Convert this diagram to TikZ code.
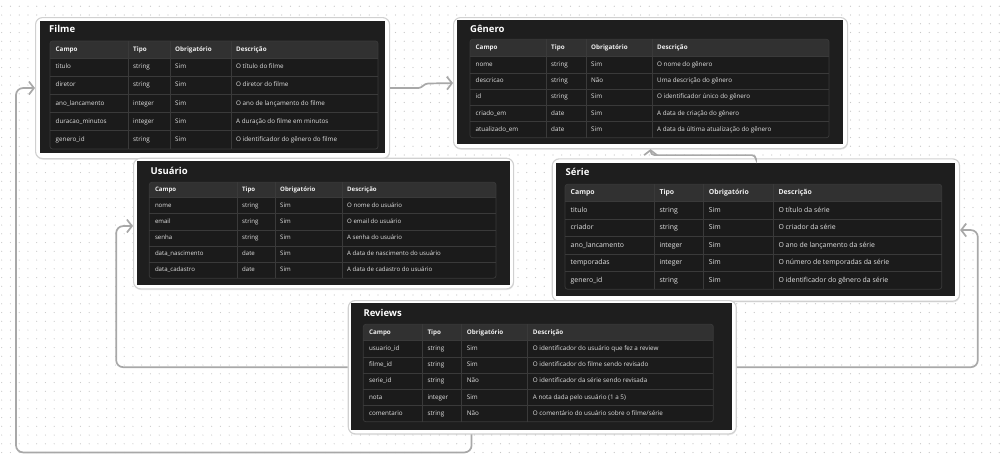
\documentclass[tikz,border=0pt]{standalone}
\usepackage{fontspec}
\setmainfont{Open Sans}
\usetikzlibrary{arrows.meta,calc,shadows}
\definecolor{panel}{HTML}{1E1E1E}
\definecolor{tbody}{HTML}{1B1B1B}
\definecolor{thead}{HTML}{313131}
\definecolor{tline}{HTML}{3A3A3A}
\definecolor{txt}{HTML}{E2E2E2}
\definecolor{htxt}{HTML}{F0F0F0}
\definecolor{conncol}{HTML}{A8A8A8}
\definecolor{cardline}{HTML}{D0D0D0}
\definecolor{dotcol}{HTML}{C6C6C6}

\tikzset{
  card/.style={draw=cardline, line width=1.1pt, fill=white, rounded corners=7pt,
    inner sep=0pt, anchor=north west,
    drop shadow={opacity=0.18, shadow xshift=0.4pt, shadow yshift=-1.2pt}},
  conn/.style={draw=conncol, line width=1.7pt, rounded corners=7pt,
    -{Straight Barb[length=5pt,width=13pt]}},
  cell/.style={anchor=west, inner sep=0pt, text=txt, text height=0.72*\FS pt, text depth=0.2*\FS pt,
    font=\fontsize{\FS}{\FS}\selectfont},
  hcell/.style={cell, text=htxt, font=\fontsize{\FS}{\FS}\selectfont\bfseries},
  ttl/.style={anchor=west, inner sep=0pt, text=white, font=\fontsize{9.5}{10}\selectfont\bfseries},
}

\newcommand{\mktable}{%
  \pgfmathsetmacro{\TB}{\TT+\HH+5*\RH}%
  \pgfmathsetmacro{\HB}{\TT+\HH}%
  \pgfmathsetmacro{\HY}{\TT+\HH/2}%
  \fill[tbody,rounded corners=2.5pt] (\TL,\TT) rectangle (\TR,\TB);
  \fill[thead,rounded corners=2.5pt] (\TL,\TT) rectangle (\TR,\HB);
  \fill[thead] (\TL,{\HB-3}) rectangle (\TR,\HB);
  \foreach \k in {0,...,4} \draw[tline,line width=0.7pt] (\TL,{\HB+\k*\RH}) -- (\TR,{\HB+\k*\RH});
  \foreach \c in {\CA,\CB,\CC} \draw[tline,line width=0.7pt] (\c,\TT) -- (\c,\TB);
  \draw[tline,line width=0.7pt,rounded corners=2.5pt] (\TL,\TT) rectangle (\TR,\TB);
  \node[hcell] (\TP-h1) at ({\TL+5.5},\HY) {Campo};
  \node[hcell] (\TP-h2) at ({\CA+5},\HY) {Tipo};
  \node[hcell] (\TP-h3) at ({\CB+5},\HY) {Obrigatório};
  \node[hcell] (\TP-h4) at ({\CC+5},\HY) {Descrição};
}
\newcommand{\trow}[5]{%
  \pgfmathsetmacro{\RY}{\TT+\HH+(#1-0.5)*\RH}%
  \node[cell] (\TP-#1a) at ({\TL+5.5},\RY) {#2};
  \node[cell] (\TP-#1b) at ({\CA+5},\RY) {#3};
  \node[cell] (\TP-#1c) at ({\CB+5},\RY) {#4};
  \node[cell] (\TP-#1d) at ({\CC+5},\RY) {#5};
}
\newcommand{\settable}[9]{\def\TP{#1}\def\TL{#2}\def\TR{#3}\def\TT{#4}\def\HH{#5}\def\RH{#6}\def\CA{#7}\def\CB{#8}\def\CC{#9}}

\begin{document}
\begin{tikzpicture}[x=1pt,y=-1pt]
\useasboundingbox (0,0) rectangle (1003,455);
\fill[white] (0,0) rectangle (1003,455);
% dotted canvas
\foreach \i in {0,...,114} {
  \foreach \j in {0,...,51} {
    \fill[dotcol] ({1.7+8.75*\i},{6.25+8.75*\j}) circle (0.55);
  }
}

% ---------- cards ----------
\node[card, minimum width=354pt, minimum height=141pt] (filme) at (35,17) {};
\node[card, minimum width=394pt, minimum height=131pt] (genero) at (453,17) {};
\node[card, minimum width=380pt, minimum height=130.6pt] (usuario) at (133,157.7) {};
\node[card, minimum width=407.3pt, minimum height=142.4pt] (serie) at (551.7,158.3) {};
\node[card, minimum width=388pt, minimum height=133.3pt] (reviews) at (347.7,300) {};

% ---------- Filme ----------
\fill[panel] (40,21) rectangle (385,152.5);
\node[ttl] (filme-t) at (49,29) {Filme};
\def\FS{6.3}
\settable{filme}{50}{378}{41}{17}{18.2}{128}{170}{231}
\mktable
\trow{1}{titulo}{string}{Sim}{O título do filme}
\trow{2}{diretor}{string}{Sim}{O diretor do filme}
\trow{3}{ano\_lancamento}{integer}{Sim}{O ano de lançamento do filme}
\trow{4}{duracao\_minutos}{integer}{Sim}{A duração do filme em minutos}
\trow{5}{genero\_id}{string}{Sim}{O identificador do gênero do filme}

% ---------- Genero ----------
\fill[panel] (457,20) rectangle (842.5,143.5);
\node[ttl] (genero-t) at (470,29) {Gênero};
\def\FS{6.3}
\settable{genero}{470}{829}{39.3}{17.4}{16.2}{546}{586}{652}
\mktable
\trow{1}{nome}{string}{Sim}{O nome do gênero}
\trow{2}{descricao}{string}{Não}{Uma descrição do gênero}
\trow{3}{id}{string}{Sim}{O identificador único do gênero}
\trow{4}{criado\_em}{date}{Sim}{A data de criação do gênero}
\trow{5}{atualizado\_em}{date}{Sim}{A data da última atualização do gênero}

% ---------- Usuario ----------
\fill[panel] (136.5,160.5) rectangle (510,285);
\node[ttl] (usuario-t) at (150.5,171) {Usuário};
\def\FS{6.1}
\settable{usuario}{149.3}{496}{182.3}{15.4}{16.1}{237}{275}{342}
\mktable
\trow{1}{nome}{string}{Sim}{O nome do usuário}
\trow{2}{email}{string}{Sim}{O email do usuário}
\trow{3}{senha}{string}{Sim}{A senha do usuário}
\trow{4}{data\_nascimento}{date}{Sim}{A data de nascimento do usuário}
\trow{5}{data\_cadastro}{date}{Sim}{A data de cadastro do usuário}

% ---------- Serie ----------
\fill[panel] (556,162.5) rectangle (955,295.5);
\node[ttl] (serie-t) at (565.5,171.7) {Série};
\def\FS{6.9}
\settable{serie}{565}{941.7}{184.3}{17.4}{17.5}{654.3}{703.7}{773.3}
\mktable
\trow{1}{titulo}{string}{Sim}{O título da série}
\trow{2}{criador}{string}{Sim}{O criador da série}
\trow{3}{ano\_lancamento}{integer}{Sim}{O ano de lançamento da série}
\trow{4}{temporadas}{integer}{Sim}{O número de temporadas da série}
\trow{5}{genero\_id}{string}{Sim}{O identificador do gênero da série}

% ---------- Reviews ----------
\fill[panel] (351,302.5) rectangle (731.7,430);
\node[ttl] (reviews-t) at (363.3,313.3) {Reviews};
\def\FS{6.3}
\settable{reviews}{363.3}{713.3}{324.3}{16.4}{16.2}{422.3}{461.7}{527.7}
\mktable
\trow{1}{usuario\_id}{string}{Sim}{O identificador do usuário que fez a review}
\trow{2}{filme\_id}{string}{Sim}{O identificador do filme sendo revisado}
\trow{3}{serie\_id}{string}{Não}{O identificador da série sendo revisada}
\trow{4}{nota}{integer}{Sim}{A nota dada pelo usuário (1 a 5)}
\trow{5}{comentario}{string}{Não}{O comentário do usuário sobre o filme/série}

% ---------- connectors ----------
\draw[conn, rounded corners=3pt] (filme.east) -- ++(31,0) -- ++(4,-4.5) -- (genero.west);
\draw[conn, rounded corners=4pt] (serie.north) |- ($(genero.south)+(0,6)$) -- (genero.south);
\draw[conn] (reviews.east) -- ++(241,0) |- (serie.east);
\draw[conn] (reviews.west) -- ++(-231.5,0) |- ([yshift=-2.5pt]usuario.west);
\draw[conn] ([xshift=-70.7pt]reviews.south) -- ++(0,18) -| ($(filme.west)+(-19,0)$) -- (filme.west);
\end{tikzpicture}
\end{document}
